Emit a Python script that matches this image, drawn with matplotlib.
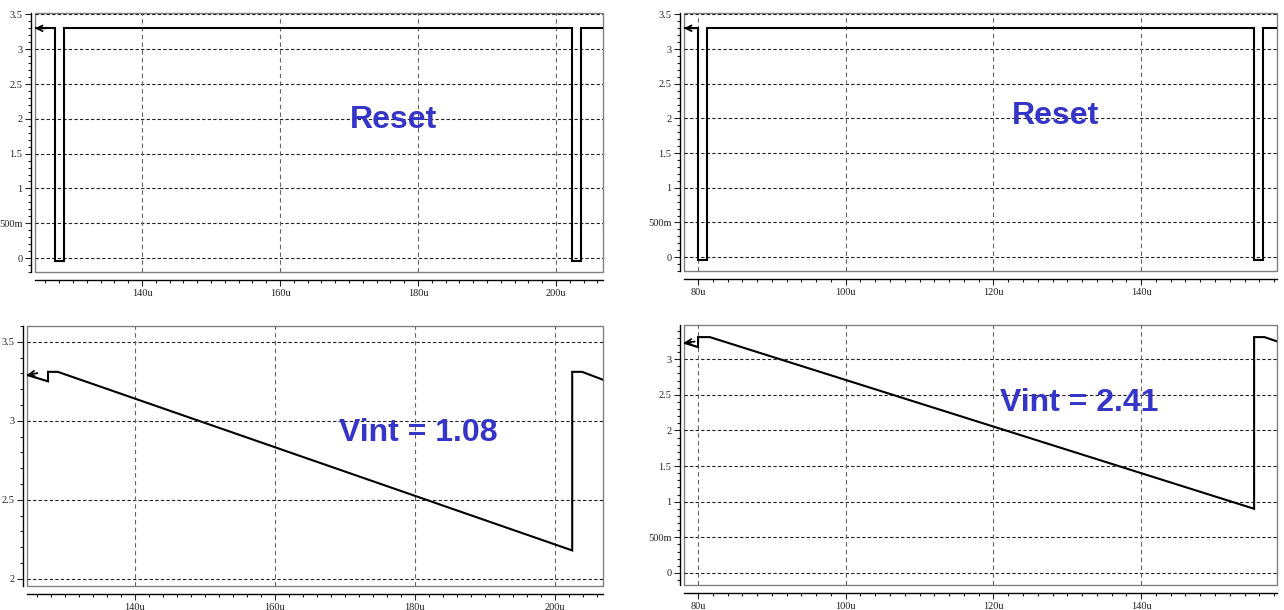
import matplotlib.pyplot as plt
from matplotlib.patches import Rectangle
from matplotlib.ticker import MultipleLocator, FuncFormatter

# waveform breakpoints, time in us, voltage in V
reset_a_t = [124.5, 127.4, 127.4, 128.7, 128.7, 202.3, 202.3, 203.6, 203.6, 206.8]
reset_a_v = [3.3, 3.3, -0.04, -0.04, 3.3, 3.3, -0.04, -0.04, 3.3, 3.3]

reset_b_t = [78.1, 80.0, 80.0, 81.2, 81.2, 155.3, 155.3, 156.5, 156.5, 158.4]
reset_b_v = [3.3, 3.3, -0.04, -0.04, 3.3, 3.3, -0.04, -0.04, 3.3, 3.3]

vint_a_t = [124.6, 127.6, 127.6, 129.0, 202.5, 202.5, 203.9, 206.9]
vint_a_v = [3.29, 3.25, 3.31, 3.31, 2.18, 3.31, 3.31, 3.26]

vint_b_t = [78.1, 80.0, 80.0, 81.6, 155.3, 155.3, 156.7, 158.4]
vint_b_v = [3.23, 3.17, 3.31, 3.31, 0.90, 3.31, 3.31, 3.25]

W, H = 1284, 610
BLUE = '#3535c8'
TICK_FONT = dict(family='Liberation Serif', size=7.5)


def volt_fmt(v, pos):
    if abs(v) < 1e-9:
        return '0'
    if abs(v - 0.5) < 1e-9:
        return '500m'
    return '%g' % v


def make_axes(fig, px, xlim, ylim, yticks, xticks):
    # px = (left, top, right, bottom) in pixels
    l, t, r, b = px
    ax = fig.add_axes([l / W, 1 - b / H, (r - l) / W, (b - t) / H])
    ax.set_xlim(*xlim)
    ax.set_ylim(*ylim)

    for s in ['top', 'right']:
        ax.spines[s].set_visible(False)
    ax.spines['left'].set_position(('outward', 3))
    ax.spines['bottom'].set_position(('outward', 6))
    ax.spines['left'].set_linewidth(1.0)
    ax.spines['bottom'].set_linewidth(1.0)

    # plot frame
    ax.add_patch(Rectangle((0, 0), 1, 1, transform=ax.transAxes, fill=False,
                           edgecolor='#808080', lw=1.0, clip_on=False, zorder=1))

    ax.set_yticks(yticks)
    ax.set_xticks(xticks)
    ax.yaxis.set_minor_locator(MultipleLocator(0.1))
    ax.xaxis.set_minor_locator(MultipleLocator(2))
    ax.yaxis.set_major_formatter(FuncFormatter(volt_fmt))
    ax.xaxis.set_major_formatter(FuncFormatter(lambda v, p: '%du' % round(v)))
    ax.tick_params(which='major', direction='out', length=4, width=0.8, pad=2,
                   colors='#222222')
    ax.tick_params(which='minor', direction='out', length=2, width=0.8,
                   colors='#222222')
    for lab in ax.get_xticklabels() + ax.get_yticklabels():
        lab.set_fontfamily(TICK_FONT['family'])
        lab.set_fontsize(TICK_FONT['size'])

    for y in yticks:
        ax.axhline(y, color='#222222', lw=0.8, ls=(0, (3, 2)), zorder=2)
    for x in xticks:
        ax.axvline(x, color='#666666', lw=0.8, ls=(0, (4, 3)), zorder=2)
    return ax


def draw_trace(ax, t, v):
    ax.plot(t, v, color='black', lw=1.5, zorder=3, solid_joinstyle='miter')
    x0 = ax.get_xlim()[0]
    dx = (ax.get_xlim()[1] - x0) * 0.018
    ax.annotate('', xy=(x0, v[0]), xytext=(x0 + dx, v[0] - (v[1] - v[0]) * 0.3),
                arrowprops=dict(arrowstyle='->', lw=1.3, color='black',
                                shrinkA=0, shrinkB=0), zorder=4)


fig = plt.figure(figsize=(W / 100, H / 100), dpi=100)

top_yt = [0, 0.5, 1, 1.5, 2, 2.5, 3, 3.5]

ax1 = make_axes(fig, (35, 13, 603, 272), (124.5, 206.8), (-0.2, 3.52),
                top_yt, [140, 160, 180, 200])
draw_trace(ax1, reset_a_t, reset_a_v)

ax2 = make_axes(fig, (684, 13, 1277, 271), (78.1, 158.4), (-0.2, 3.52),
                top_yt, [80, 100, 120, 140])
draw_trace(ax2, reset_b_t, reset_b_v)

ax3 = make_axes(fig, (27, 326, 603, 586), (124.6, 206.9), (1.955, 3.6),
                [2, 2.5, 3, 3.5], [140, 160, 180, 200])
draw_trace(ax3, vint_a_t, vint_a_v)

ax4 = make_axes(fig, (684, 325, 1277, 585), (78.1, 158.4), (-0.17, 3.48),
                [0, 0.5, 1, 1.5, 2, 2.5, 3], [80, 100, 120, 140])
draw_trace(ax4, vint_b_t, vint_b_v)

label_font = dict(family='Liberation Sans', weight='bold', size=23, color=BLUE,
                  ha='center', va='center')
fig.text(393 / W, 1 - 120 / H, 'Reset', **label_font)
fig.text(1055 / W, 1 - 116 / H, 'Reset', **label_font)
fig.text(418 / W, 1 - 433 / H, 'Vint = %.2f' % (vint_a_v[-1] - vint_a_v[4]), **label_font)
fig.text(1079 / W, 1 - 403 / H, 'Vint = %.2f' % (vint_b_v[5] - vint_b_v[4]), **label_font)

fig.savefig('out.png', dpi=100, facecolor='white')
